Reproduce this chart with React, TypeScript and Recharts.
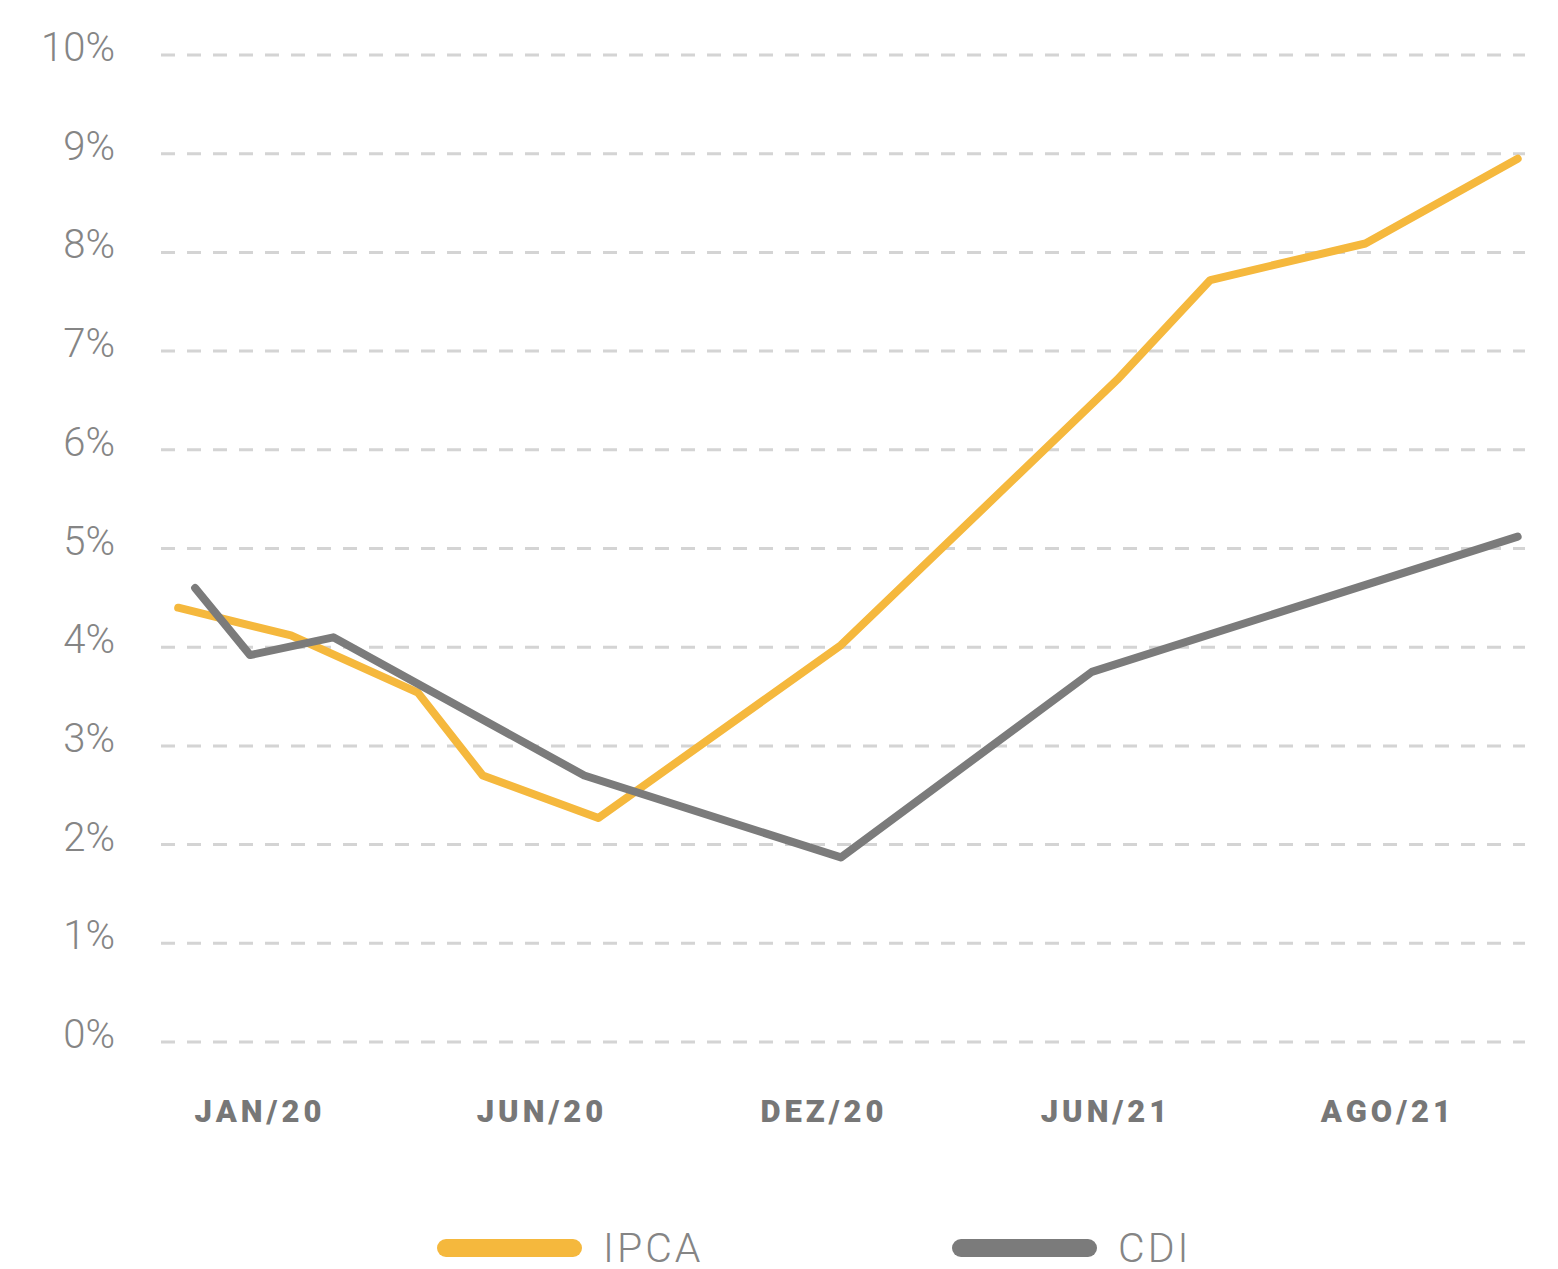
import React from 'react';
import { LineChart, Line, XAxis, YAxis, CartesianGrid, Legend } from 'recharts';

// Category labels along the x axis (evenly spaced positions 0..4)
const tickLabels = ['JAN/20', 'JUN/20', 'DEZ/20', 'JUN/21', 'AGO/21'];
const tickPositions = [0, 1, 2, 3, 4];
const yTicks = [0, 1, 2, 3, 4, 5, 6, 7, 8, 9, 10];

// IPCA series (x = position on label scale, y = %)
const ipcaX = [-0.29, 0.11, 0.56, 0.79, 1.2, 2.06, 3.04, 3.37, 3.92, 4.46];
const ipcaY = [4.4, 4.12, 3.54, 2.7, 2.27, 4.02, 6.71, 7.72, 8.09, 8.95];

// CDI series
const cdiX = [-0.23, -0.035, 0.26, 1.15, 2.06, 2.95, 4.46];
const cdiY = [4.6, 3.92, 4.1, 2.7, 1.87, 3.75, 5.12];

const seriesNames = ['IPCA', 'CDI'];
const colors = ['#F5B83D', '#7B7B7B'];

const ipcaData = ipcaX.map((x, i) => ({ x, v: ipcaY[i] }));
const cdiData = cdiX.map((x, i) => ({ x, v: cdiY[i] }));

const YTick = (props: any) => {
  const { y, payload } = props;
  return (
    <text x={115} y={y} dy={6} textAnchor="end" fontFamily="Roboto" fontWeight={300} fontSize={40} fill="#858585">
      {payload.value}%
    </text>
  );
};

const XTick = (props: any) => {
  const { x, y, payload } = props;
  return (
    <text x={x} y={y} dy={80} textAnchor="middle" fontFamily="Roboto" fontWeight={900} fontSize={31} letterSpacing={4} fill="#777777">
      {tickLabels[payload.value]}
    </text>
  );
};

const LegendContent = () => (
  <div style={{ height: 107, boxSizing: 'border-box', paddingTop: 64, paddingLeft: 437, display: 'flex', alignItems: 'center' }}>
    {seriesNames.map((name, i) => (
      <div key={name} style={{ display: 'flex', alignItems: 'center', height: 40 }}>
        <div style={{ width: 145, height: 18, borderRadius: 9, background: colors[i], marginRight: 21 }} />
        <span style={{ display: 'inline-block', width: i === 0 ? 349 : 'auto', fontFamily: 'Roboto', fontWeight: 300, fontSize: 41, letterSpacing: 3, color: '#858585', lineHeight: '40px' }}>{name}</span>
      </div>
    ))}
  </div>
);

export default function App() {
  return (
    <div style={{ position: 'absolute', left: 0, top: 0, background: '#fff' }}>
      <LineChart width={1558} height={1269} margin={{ top: 55, right: 33, left: 0, bottom: 0 }}>
        <CartesianGrid vertical={false} stroke="#d4d4d4" strokeWidth={3} strokeDasharray="14 12" />
        <XAxis
          type="number"
          dataKey="x"
          domain={[-0.351, 4.486]}
          ticks={tickPositions}
          allowDataOverflow
          axisLine={false}
          tickLine={false}
          tickSize={0}
          tickMargin={0}
          height={120}
          tick={<XTick />}
          interval={0}
        />
        <YAxis
          type="number"
          dataKey="v"
          domain={[0, 10]}
          ticks={yTicks}
          width={161}
          axisLine={false}
          tickLine={false}
          tick={<YTick />}
          interval={0}
        />
        <Legend verticalAlign="bottom" height={107} content={<LegendContent />} wrapperStyle={{ left: 0, width: 1558 }} />
        <Line data={ipcaData} dataKey="v" name="IPCA" type="linear" stroke={colors[0]} strokeWidth={8} dot={false} strokeLinejoin="round" strokeLinecap="round" isAnimationActive={false} />
        <Line data={cdiData} dataKey="v" name="CDI" type="linear" stroke={colors[1]} strokeWidth={8} dot={false} strokeLinejoin="round" strokeLinecap="round" isAnimationActive={false} />
      </LineChart>
    </div>
  );
}
